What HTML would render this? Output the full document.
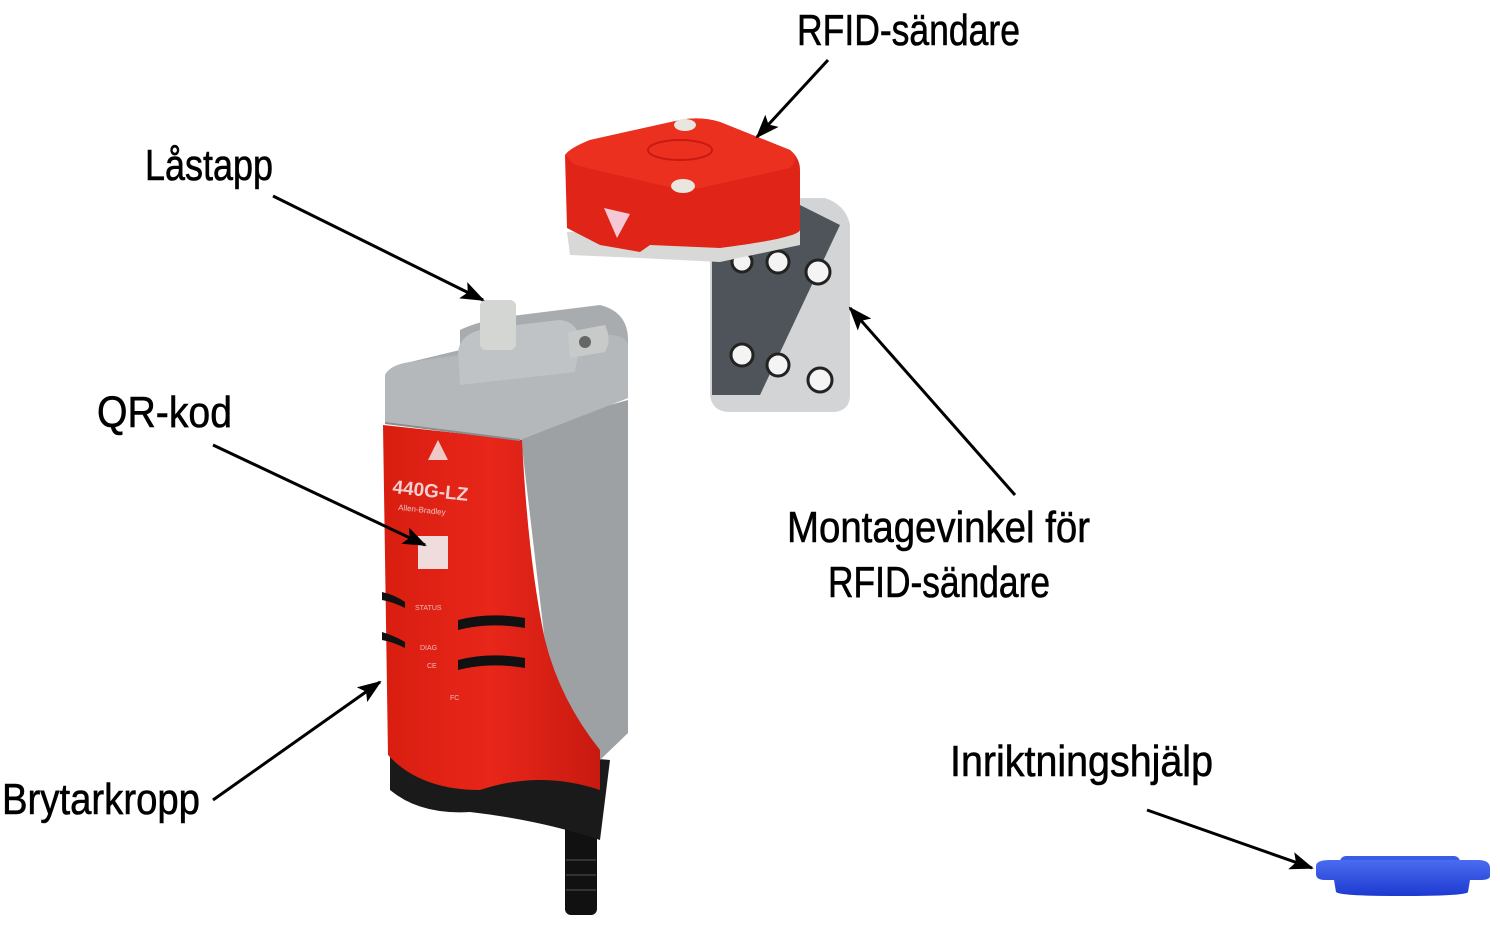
<!DOCTYPE html>
<html><head><meta charset="utf-8"><style>html,body{margin:0;padding:0;background:#fff}svg{display:block}</style></head>
<body>
<svg width="1500" height="926" viewBox="0 0 1500 926" xmlns="http://www.w3.org/2000/svg">
<defs>
<marker id="ah" viewBox="0 0 24 18" refX="22" refY="9" markerWidth="24" markerHeight="18" orient="auto" markerUnits="userSpaceOnUse"><path d="M0,0 L24,9 L0,18 L5,9 z" fill="#000"/></marker>
<linearGradient id="red" x1="0" x2="1"><stop offset="0" stop-color="#d81e10"/><stop offset="0.5" stop-color="#e8261a"/><stop offset="1" stop-color="#c81a10"/></linearGradient>
<linearGradient id="blue" x1="0" y1="0" x2="0" y2="1"><stop offset="0" stop-color="#4a6cf0"/><stop offset="1" stop-color="#1d3ad0"/></linearGradient>
</defs>

<rect x="565" y="780" width="32" height="135" rx="6" fill="#111"/>
<g stroke="#333" stroke-width="2"><line x1="566" y1="860" x2="596" y2="860"/><line x1="566" y1="875" x2="596" y2="875"/><line x1="566" y1="890" x2="596" y2="890"/></g>
<path d="M390,740 L390,790 Q420,815 470,812 Q540,820 600,840 L610,760 Z" fill="#1a1a1a"/>
<path d="M520,430 L628,400 L628,733 L600,760 L560,770 Z" fill="#9ea1a4"/>
<path d="M383,425 L522,440 Q528,560 545,640 Q560,700 600,750 L600,790 Q540,770 480,790 Q420,790 388,755 Z" fill="url(#red)"/>
<path d="M385,375 Q390,365 410,362 L460,350 L460,330 Q480,320 520,315 L600,305 Q628,312 628,340 L628,398 L520,440 L385,423 Z" fill="#a9acaf"/>
<path d="M385,375 Q390,365 410,362 L600,335 Q625,333 628,345 L628,398 L520,440 L385,423 Z" fill="#b5b8bb"/>
<path d="M458,352 Q460,332 490,328 L560,320 Q580,322 580,345 L575,372 L460,385 Z" fill="#c0c3c5"/>
<rect x="480" y="300" width="36" height="50" rx="6" fill="#d4d6d4"/>
<path d="M568,332 L605,325 Q612,340 605,352 L570,358 Z" fill="#c8caca"/>
<circle cx="585" cy="342" r="6" fill="#666"/>
<line x1="385" y1="423" x2="520" y2="440" stroke="#8a8c8e" stroke-width="2"/>
<polygon points="428,460 438,440 448,460" fill="#f0c8c8"/>
<text x="392" y="493" font-family="Liberation Sans,sans-serif" font-size="19" font-weight="bold" fill="#f4d0d0" transform="rotate(6 392 493)">440G-LZ</text>
<text x="398" y="510" font-family="Liberation Sans,sans-serif" font-size="8" fill="#f0c0c0" transform="rotate(6 398 510)">Allen-Bradley</text>
<rect x="418" y="536" width="30" height="33" fill="#f0dcdc"/>
<g fill="#111"><path d="M382,592 Q395,595 405,602 L405,608 Q393,602 382,600 Z"/><path d="M382,632 Q395,636 405,642 L405,648 Q393,642 382,640 Z"/>
<path d="M458,620 Q490,612 525,618 L525,628 Q490,622 458,630 Z"/><path d="M458,660 Q490,652 525,658 L525,668 Q490,662 458,670 Z"/></g>
<g font-family="Liberation Sans,sans-serif" font-size="7" fill="#f0b8b8"><text x="415" y="610">STATUS</text><text x="420" y="650">DIAG</text><text x="427" y="668">CE</text><text x="450" y="700">FC</text></g>

<path d="M710,258 L710,395 Q712,412 730,412 L835,412 Q850,410 850,395 L850,225 Q846,205 825,198 L800,198 Z" fill="#d2d4d6"/>
<path d="M712,258 L800,205 L840,225 L760,395 L712,395 Z" fill="#4e545a"/>
<g fill="#f4f4f4" stroke="#222" stroke-width="3">
<circle cx="742" cy="262" r="10"/><circle cx="778" cy="262" r="11"/><circle cx="818" cy="272" r="12"/>
<circle cx="742" cy="355" r="11"/><circle cx="778" cy="365" r="11"/><circle cx="820" cy="380" r="12"/></g>
<path d="M567,232 L570,255 L640,258 L720,262 L800,245 L800,225 Z" fill="#d8d8d6"/>
<path d="M565,155 Q570,148 590,140 L680,120 Q700,116 720,122 L790,150 Q800,158 800,170 L800,230 Q798,238 720,248 L650,245 L640,252 L600,245 L567,228 Z" fill="#e02418"/>
<path d="M565,155 Q570,148 590,140 L680,120 Q700,116 720,122 L790,150 Q800,158 790,168 L700,188 Q680,190 660,185 L575,165 Z" fill="#ec3020"/>
<ellipse cx="680" cy="150" rx="32" ry="10" fill="none" stroke="#c81a10" stroke-width="2"/>
<ellipse cx="685" cy="125" rx="11" ry="6" fill="#e8e6de"/>
<ellipse cx="683" cy="186" rx="12" ry="7" fill="#e8e6de"/>
<polygon points="604,208 630,214 617,238" fill="#f4c8d4"/>

<rect x="1340" y="856" width="120" height="14" rx="6" fill="#3a5ae8"/>
<path d="M1316,866 Q1316,860 1330,860 L1478,860 Q1490,860 1490,868 L1490,876 Q1490,880 1480,880 L1470,880 L1468,892 Q1466,896 1400,896 Q1340,896 1336,892 L1334,880 L1325,880 Q1316,880 1316,874 Z" fill="url(#blue)"/>

<g stroke="#000" stroke-width="3" fill="none" marker-end="url(#ah)">
<line x1="828" y1="60" x2="757" y2="137"/>
<line x1="273" y1="196" x2="483" y2="300"/>
<line x1="213" y1="445" x2="425" y2="545"/>
<line x1="1015" y1="495" x2="850" y2="308"/>
<line x1="213" y1="800" x2="380" y2="682"/>
<line x1="1147" y1="810" x2="1312" y2="868"/>
</g>

<g font-family="Liberation Sans,sans-serif" font-size="44" fill="#000" stroke="#000" stroke-width="0.6">
<text x="797" y="45" textLength="223" lengthAdjust="spacingAndGlyphs">RFID-sändare</text>
<text x="145" y="180" textLength="128" lengthAdjust="spacingAndGlyphs">Låstapp</text>
<text x="97" y="427" textLength="135" lengthAdjust="spacingAndGlyphs">QR-kod</text>
<text x="787" y="542" textLength="303" lengthAdjust="spacingAndGlyphs">Montagevinkel för</text>
<text x="828" y="597" textLength="222" lengthAdjust="spacingAndGlyphs">RFID-sändare</text>
<text x="2" y="814" textLength="198" lengthAdjust="spacingAndGlyphs">Brytarkropp</text>
<text x="950" y="776" textLength="263" lengthAdjust="spacingAndGlyphs">Inriktningshjälp</text>
</g>
</svg>
</body></html>
